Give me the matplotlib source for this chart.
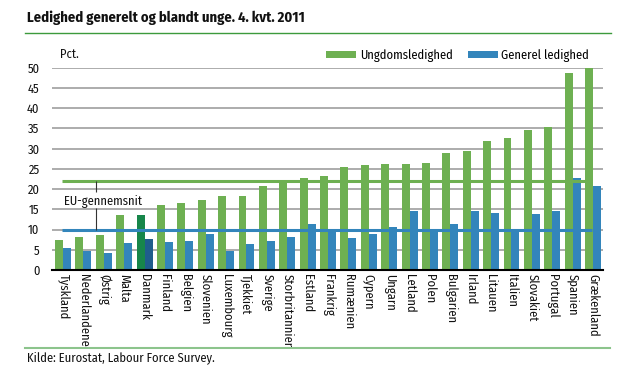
import matplotlib.pyplot as plt
from matplotlib.patches import Rectangle
import numpy as np

countries = ['Tyskland', 'Nederlandene', 'Østrig', 'Malta', 'Danmark', 'Finland', 'Belgien',
             'Slovenien', 'Luxembourg', 'Tjekkiet', 'Sverige', 'Storbritannien', 'Estland',
             'Frankrig', 'Rumænien', 'Cypern', 'Ungarn', 'Letland', 'Polen', 'Bulgarien',
             'Irland', 'Litauen', 'Italien', 'Slovakiet', 'Portugal', 'Spanien', 'Grækenland']
youth = [7.4, 8.2, 8.7, 13.5, 13.6, 16.1, 16.6, 17.3, 18.3, 18.3, 20.8, 21.8, 22.7,
         23.3, 25.4, 26.0, 26.3, 26.3, 26.5, 28.9, 29.5, 32.0, 32.6, 34.6, 35.4, 48.7, 50.5]
general = [5.4, 4.8, 4.3, 6.6, 7.6, 6.9, 7.1, 8.9, 4.8, 6.5, 7.1, 8.2, 11.4,
           9.9, 8.0, 8.9, 10.6, 14.5, 10.0, 11.4, 14.5, 14.0, 9.9, 13.9, 14.5, 22.8, 20.8]
eu_youth = 22.0
eu_general = 10.0
yticks = list(range(0, 51, 5))

plt.rcParams['font.family'] = ['Fira Sans Condensed', 'DejaVu Sans']

green = '#6eb052'
blue = '#3385bb'
dk_green = '#17864a'
dk_blue = '#1f5d8c'

fig = plt.figure(figsize=(6.39, 3.70), dpi=100)
ax = fig.add_axes([0.0814, 0.2703, 0.8623, 0.5467])

x = np.arange(len(countries))
w = 0.39
gcol = [dk_green if c == 'Danmark' else green for c in countries]
bcol = [dk_blue if c == 'Danmark' else blue for c in countries]
ax.bar(x - w / 2, youth, w, color=gcol, zorder=3, label='Ungdomsledighed')
ax.bar(x + w / 2, general, w, color=bcol, zorder=3, label='Generel ledighed')

# EU-gennemsnit, label box hides some gridlines like in the original
ax.add_patch(Rectangle((1.62, 14.0), 9.6, 7.0, facecolor='white', edgecolor='none', zorder=1))
ax.hlines(eu_youth, -0.05, 25.95, color=green, lw=2.2, zorder=4)
ax.hlines(eu_general, -0.05, 25.95, color=blue, lw=2.2, zorder=4)
ax.vlines(1.62, eu_general, 15.2, color='#333333', lw=0.8, zorder=4)
ax.vlines(1.62, 19.2, eu_youth, color='#333333', lw=0.8, zorder=4)
ax.text(0.05, 16.9, 'EU-gennemsnit', fontsize=9, ha='left', va='center', color='#111111', zorder=5)

ax.set_xlim(-0.54, 26.49)
ax.set_ylim(0, 50)
ax.set_yticks(yticks)
ax.set_xticks(x)
ax.set_xticklabels(countries, rotation=270, fontsize=9, va='top', ha='center')
ax.tick_params(axis='both', length=0, labelsize=9, colors='#111111')
ax.tick_params(axis='y', pad=9)
ax.tick_params(axis='x', pad=3)
ax.grid(axis='y', color='#a6a6a6', lw=1.3, zorder=0)
for s in ['top', 'right', 'left']:
    ax.spines[s].set_visible(False)
ax.spines['bottom'].set_color('black')
ax.spines['bottom'].set_linewidth(1.5)
ax.spines['bottom'].set_zorder(5)

fig.legend(*ax.get_legend_handles_labels(), loc='center left',
           bbox_to_anchor=(326 / 639, 1 - 55 / 370), ncol=2, frameon=False,
           fontsize=9, handlelength=2.4, handleheight=0.5, columnspacing=1.2,
           handletextpad=0.3, borderaxespad=0, borderpad=0)

fig.text(0.094, 0.843, 'Pct.', fontsize=9, color='#111111')
fig.text(0.042, 0.953, 'Ledighed generelt og blandt unge. 4. kvt. 2011', fontsize=10.5,
         fontweight='bold', va='center', color='#111111')
fig.add_artist(plt.Line2D([0.039, 0.956], [0.91, 0.91], color='#3c9a3c', lw=1))
fig.add_artist(plt.Line2D([0.039, 0.955], [0.059, 0.059], color='#8cc48c', lw=1.5))
fig.text(0.042, 0.033, 'Kilde: Eurostat, Labour Force Survey.', fontsize=9,
         va='center', color='#111111')

fig.savefig('out.png', dpi=100)
